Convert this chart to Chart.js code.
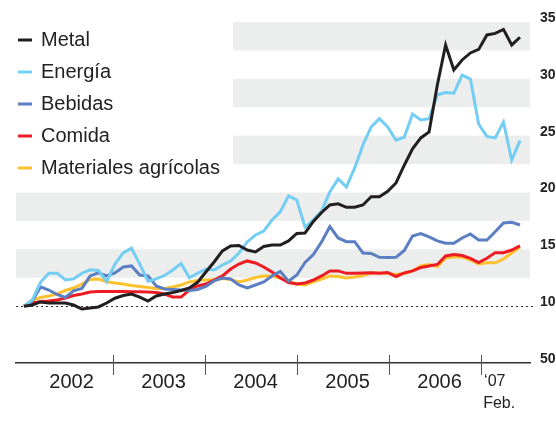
<!DOCTYPE html>
<html>
<head>
<meta charset="utf-8">
<script src="https://cdn.jsdelivr.net/npm/chart.js@4.4.0/dist/chart.umd.min.js"></script>
<style>
html, body { margin:0; padding:0; background:#fff; overflow:hidden; }
#wrap { width:600px; height:423px; }
</style>
</head>
<body>
<div id="wrap"><canvas id="chart" width="600" height="423"></canvas></div>
<script>
// index, Jan 2002 = 100, monthly points up to Feb '07
var seriesNames = ['Metal', 'Energía', 'Bebidas', 'Comida', 'Materiales agrícolas']
var seriesColors = ['#231f20', '#74cdf3', '#5b7fc2', '#ed1c24', '#fdc22d']

var metal = [100,101,103.7,102.8,102.8,102.8,101,97.5,98.4,99.3,102.8,107,109.4,110.7,108,104.5,109,110.7,112,113.8,
  116,121,130,138.9,148.6,153,153.4,149.4,147.7,152.5,153.8,153.8,157.4,164,164.4,174.5,182.4,189,190,187,
  187,189,196.3,196.3,201,208.4,224,238.4,248,253.3,294.6,329.8,307.8,316.6,322.8,325.9,338.6,340,343.5,329.8,336.6]
var energia = [100,105.4,121,129,129,123,124,129,132,131.4,121.5,137,146.8,151,137,122,124,127,131.8,137.5,
  125,129,132.7,131.8,136.2,139.7,146.8,156.5,162.6,166,175.8,183,197,193.4,169.5,176,183.8,200.5,212,205,
  221.6,241.8,257.7,265,257.7,246,248.6,269,263.8,265,286,288,287.4,303.3,299.8,260.2,249.3,248,262,228.6,245.6]
var bebidas = [100,104.6,116.9,114.2,110.3,107.6,113.4,115.6,126.6,129.3,126.6,129.3,134.5,135.4,127.4,126.6,117.8,115.1,114.7,114.2,
  113.8,114.7,117.3,122.2,124.8,123.9,118.6,116,118.6,121.3,126.6,130.5,122,127.4,138.4,145.4,156.5,170,160,156.7,
  156.7,146.8,146.4,143,142.8,143,149,161.7,163.9,160.9,157.4,155.3,155.3,160,163.5,158.2,158.2,165.5,173.2,173.8,171.4]
var comida = [100,102.8,104.1,104.6,105.4,107.2,109.4,110.7,112.4,112.9,112.9,112.9,112.9,112.7,112.7,112.4,112,110.7,108,108,
  114.2,117.8,119.5,123,126.6,132.7,137.1,139.8,138,134.5,130,124.8,120.8,119.5,120.4,123,126.6,131,131,128.9,
  128.9,129.2,129.5,128.9,129.6,126.1,129.2,131,134,135.4,136.7,144.2,145.5,144.6,142,138.3,142.1,147.1,147.1,149.4,153]
var agricolas = [100,105.4,107.6,109,110.7,113.8,116,119.5,123.5,123.9,121.5,120.4,119.5,118.2,117.3,116.4,115.6,115.6,116.9,118.6,
  121.3,122.6,123,123.5,124.3,123.5,121.3,123,125.2,126.6,126.6,124.8,122.2,119.5,118.6,121.3,123.9,126.6,126.1,124.8,
  125.7,127,129.2,129.2,128.7,127.9,128.7,131,135.4,136.7,134.9,142.4,143.5,143.3,140.6,137.1,138.2,138.2,141.5,146.8,152]

var yTicks = [50, 100, 150, 200, 250, 300, 350]
var yearTicks = [2003, 2004, 2005, 2006, 2007]
var yearLabels = ['2002', '2003', '2004', '2005', '2006', ['‘07', '  Feb.']]
var yearLabelAt = [2002.55, 2003.55, 2004.55, 2005.55, 2006.55, 2007.15]
var bands = [[125, 150], [175, 200], [225, 250], [275, 300], [325, 350]]
var baseline = 100

var allSeries = [metal, energia, bebidas, comida, agricolas]

Chart.defaults.font.family = '"Liberation Sans", Arial, sans-serif'

function toPoints(arr){
    return arr.map(function(v, i){ return {x: i, y: v} })
}

var backdrop = {
    id: 'backdrop',
    beforeDatasetsDraw: function(chart){
        var ctx = chart.ctx
        var a = chart.chartArea
        var y = chart.scales.y
        ctx.save()
        ctx.fillStyle = '#eceeee'
        bands.forEach(function(b){
            var t = y.getPixelForValue(b[1])
            var btm = y.getPixelForValue(b[0])
            ctx.fillRect(a.left, t, a.right - a.left, btm - t)
        })
        // legend sits on a white box
        ctx.fillStyle = '#ffffff'
        ctx.fillRect(0, 0, 233, 185)
        // dotted line at 100
        var yb = Math.round(y.getPixelForValue(baseline)) + 0.5
        ctx.setLineDash([2, 3])
        ctx.strokeStyle = '#333'
        ctx.lineWidth = 1
        ctx.beginPath()
        ctx.moveTo(a.left, yb)
        ctx.lineTo(a.right + 3, yb)
        ctx.stroke()
        ctx.restore()
    },
    afterDraw: function(chart){
        var ctx = chart.ctx
        var a = chart.chartArea
        var yr = chart.scales.yr
        ctx.save()
        ctx.strokeStyle = '#555'
        ctx.lineWidth = 1
        yearTicks.forEach(function(v){
            var x = Math.round(yr.getPixelForValue(v)) + 0.5
            ctx.beginPath()
            ctx.moveTo(x, a.bottom - 8)
            ctx.lineTo(x, a.bottom + 12)
            ctx.stroke()
        })
        // legend
        ctx.font = '20px "Liberation Sans", Arial, sans-serif'
        ctx.textBaseline = 'middle'
        ctx.fillStyle = '#222'
        chart.data.datasets.forEach(function(ds, i){
            var ly = 40 + 32 * i
            ctx.strokeStyle = ds.borderColor
            ctx.lineWidth = 3
            ctx.beginPath()
            ctx.moveTo(18, ly)
            ctx.lineTo(32, ly)
            ctx.stroke()
            ctx.fillText(ds.label, 41, ly)
        })
        ctx.restore()
    }
}

var datasets = allSeries.map(function(s, i){
    return {
        label: seriesNames[i],
        data: toPoints(s),
        borderColor: seriesColors[i],
        backgroundColor: seriesColors[i],
        borderWidth: 3,
        pointRadius: 0,
        tension: 0,
        fill: false,
        xAxisID: 'x',
        yAxisID: 'y'
    }
})

new Chart(document.getElementById('chart'), {
    type: 'line',
    data: { datasets: datasets },
    options: {
        responsive: false,
        animation: false,
        layout: { padding: { left: 16, top: 22, right: 0, bottom: 0 } },
        plugins: { legend: { display: false }, tooltip: { enabled: false } },
        scales: {
            x: { type: 'linear', display: false, min: -0.968, max: 61.21 },
            yr: {
                type: 'linear', position: 'bottom', min: 2001.946, max: 2007.533,
                afterBuildTicks: function(s){ s.ticks = yearLabelAt.map(function(v){ return {value: v} }) },
                afterFit: function(s){ s.height = 60 },
                grid: { display: false, drawTicks: false },
                border: { display: true, color: '#333', width: 1.5 },
                ticks: {
                    autoSkip: false, maxRotation: 0, padding: 8, color: '#222',
                    font: function(c){
                        return c.index === 5 ? { size: 16, lineHeight: 1.35 } : { size: 20, lineHeight: 1.1 }
                    },
                    callback: function(v, i){ return yearLabels[i] }
                }
            },
            y: {
                position: 'right', min: 50, max: 350,
                afterBuildTicks: function(s){ s.ticks = yTicks.map(function(v){ return {value: v} }) },
                afterFit: function(s){ s.width = 70 },
                grid: { display: false, drawTicks: false },
                border: { display: false },
                ticks: { padding: 10, labelOffset: -4, color: '#222', font: { size: 14, weight: 'bold' } }
            }
        }
    },
    plugins: [backdrop]
})
</script>
</body>
</html>
